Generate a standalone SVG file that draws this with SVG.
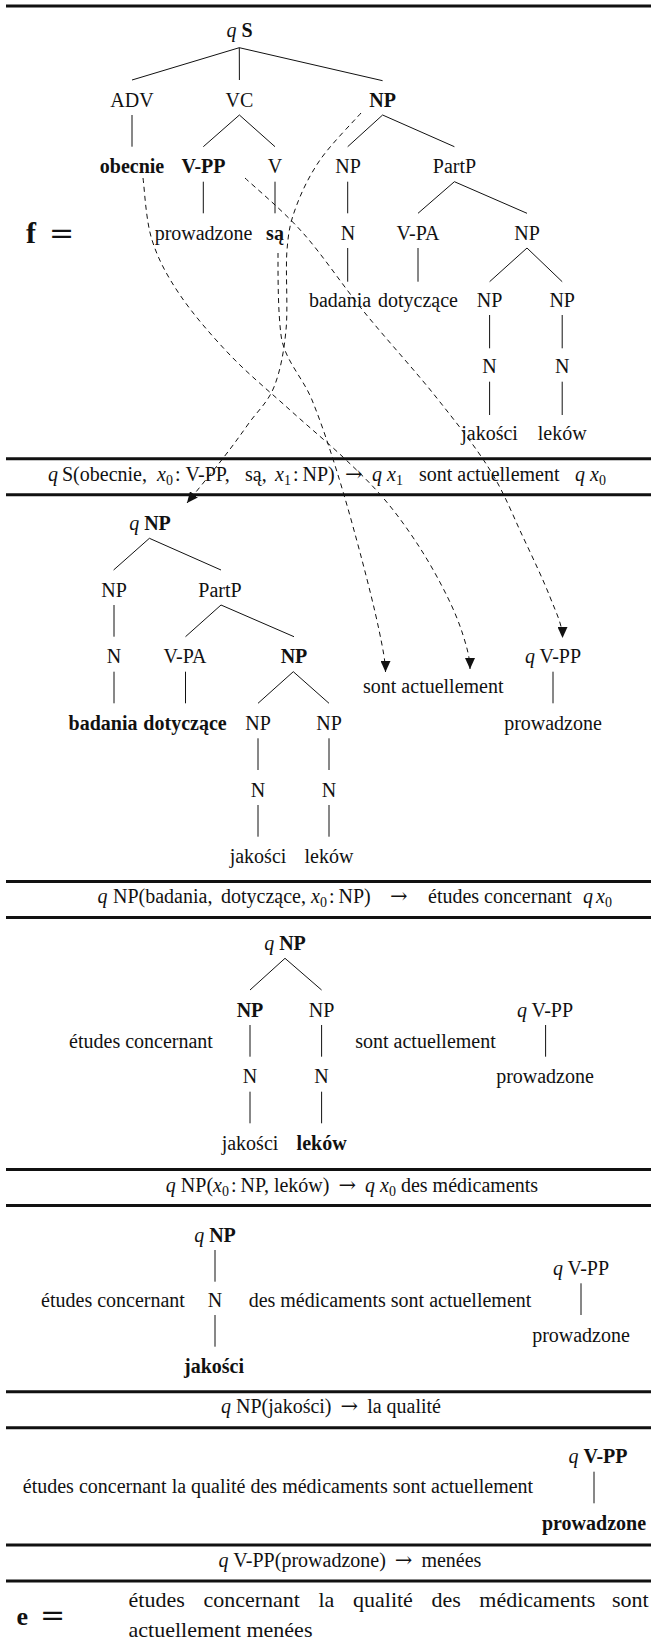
<svg xmlns="http://www.w3.org/2000/svg" width="651" height="1650" viewBox="0 0 651 1650">
<defs>
<marker id="ah" markerWidth="12" markerHeight="10" refX="11" refY="5" orient="auto" markerUnits="userSpaceOnUse">
<path d="M0,0 L11,5 L0,10 z" fill="#111"/>
</marker>
</defs>
<style>
text { font-family: "Liberation Serif","Times New Roman",serif; font-size:20px; fill:#111; }
.c { text-anchor: middle; }
.b { font-weight: bold; }
.i { font-style: italic; }
.s { font-size: 14px; }
.ar { font-family: "DejaVu Serif", serif; font-size: 21px; }
.e { stroke:#111; stroke-width:1; fill:none; }
.d { stroke:#111; stroke-width:1; fill:none; stroke-dasharray:5 4; }
.r { stroke:#111; stroke-width:3; }
.big { font-size: 30px; font-weight: bold; }
.eq { font-family: "DejaVu Serif", serif; font-size: 30px; }
.fin { font-size: 22px; }
</style>
<rect width="651" height="1650" fill="#fff"/>

<g id="rules">
<line class="r" x1="6" y1="6" x2="651" y2="6"/>
<line class="r" x1="6" y1="458.7" x2="651" y2="458.7"/>
<line class="r" x1="6" y1="494.7" x2="651" y2="494.7"/>
<line class="r" x1="6" y1="881.5" x2="651" y2="881.5"/>
<line class="r" x1="6" y1="917.5" x2="651" y2="917.5"/>
<line class="r" x1="6" y1="1169.5" x2="651" y2="1169.5"/>
<line class="r" x1="6" y1="1205.5" x2="651" y2="1205.5"/>
<line class="r" x1="6" y1="1391.7" x2="651" y2="1391.7"/>
<line class="r" x1="6" y1="1427.7" x2="651" y2="1427.7"/>
<line class="r" x1="6" y1="1545" x2="651" y2="1545"/>
<line class="r" x1="6" y1="1581" x2="651" y2="1581"/>
</g>

<g id="rule-texts">
<text y="480.5"><tspan class="i" x="48">q</tspan><tspan x="62">S(obecnie,</tspan><tspan class="i" x="157">x</tspan><tspan class="s" dy="4">0</tspan><tspan dx="2" dy="-4">:</tspan><tspan dx="5">V-PP,</tspan><tspan x="245">są,</tspan><tspan class="i" x="275">x</tspan><tspan class="s" dy="4">1</tspan><tspan dx="2" dy="-4">:</tspan><tspan dx="4">NP)</tspan><tspan class="ar" x="345">→</tspan><tspan class="i" x="372">q</tspan><tspan class="i" x="387">x</tspan><tspan class="s" dy="4">1</tspan><tspan x="419" dy="-4">sont actuellement</tspan><tspan class="i" x="575">q</tspan><tspan class="i" x="590">x</tspan><tspan class="s" dy="4">0</tspan></text>
<text y="903.3"><tspan class="i" x="97.5">q</tspan><tspan x="113">NP(badania,</tspan><tspan x="221">dotyczące,</tspan><tspan class="i" x="311">x</tspan><tspan class="s" dy="4">0</tspan><tspan dx="2" dy="-4">:</tspan><tspan dx="4">NP)</tspan><tspan class="ar" x="390">→</tspan><tspan x="428">études concernant</tspan><tspan class="i" x="583">q</tspan><tspan class="i" x="596">x</tspan><tspan class="s" dy="4">0</tspan></text>
<text class="c" x="352" y="1191.5"><tspan class="i">q</tspan> NP(<tspan class="i">x</tspan><tspan class="s" dy="4">0</tspan><tspan dx="2" dy="-4">:</tspan><tspan dx="4">NP, leków)</tspan><tspan class="ar" dx="9">→</tspan><tspan class="i" dx="9">q</tspan> <tspan class="i">x</tspan><tspan class="s" dy="4">0</tspan><tspan dy="-4"> des médicaments</tspan></text>
<text class="c" x="331" y="1413.3"><tspan class="i">q</tspan> NP(jakości)<tspan class="ar" dx="9">→</tspan><tspan dx="9">la qualité</tspan></text>
<text class="c" x="350" y="1567"><tspan class="i">q</tspan> V-PP(prowadzone)<tspan class="ar" dx="9">→</tspan><tspan dx="9">menées</tspan></text>
</g>

<g id="connectors">
<line class="e" x1="239.3" y1="47.7" x2="132" y2="80"/>
<line class="e" x1="239.3" y1="47.7" x2="239.4" y2="80"/>
<line class="e" x1="239.3" y1="47.7" x2="382.6" y2="80.7"/>
<line class="e" x1="132" y1="115" x2="132" y2="146.7"/>
<line class="e" x1="239.4" y1="115" x2="203.3" y2="146.7"/>
<line class="e" x1="239.4" y1="115" x2="275" y2="146.7"/>
<line class="e" x1="382.6" y1="115" x2="347.7" y2="146.7"/>
<line class="e" x1="382.6" y1="115" x2="454.4" y2="146.7"/>
<line class="e" x1="203.3" y1="181.7" x2="203.3" y2="213.3"/>
<line class="e" x1="275" y1="181.7" x2="275" y2="213.3"/>
<line class="e" x1="347.7" y1="181.7" x2="347.7" y2="213.3"/>
<line class="e" x1="454.4" y1="181.7" x2="418" y2="213.3"/>
<line class="e" x1="454.4" y1="181.7" x2="527" y2="213.3"/>
<line class="e" x1="347.7" y1="248" x2="347.7" y2="281.7"/>
<line class="e" x1="418" y1="248" x2="418" y2="281.7"/>
<line class="e" x1="527" y1="248" x2="489.6" y2="281.7"/>
<line class="e" x1="527" y1="248" x2="562.2" y2="281.7"/>
<line class="e" x1="489.6" y1="315" x2="489.6" y2="348.3"/>
<line class="e" x1="562.2" y1="315" x2="562.2" y2="348.3"/>
<line class="e" x1="489.6" y1="381.7" x2="489.6" y2="415"/>
<line class="e" x1="562.2" y1="381.7" x2="562.2" y2="415"/>

<line class="e" x1="149.4" y1="538.3" x2="113.6" y2="570"/>
<line class="e" x1="149.4" y1="538.3" x2="221" y2="570"/>
<line class="e" x1="114" y1="605" x2="114" y2="636.7"/>
<line class="e" x1="221" y1="605" x2="185.5" y2="636.7"/>
<line class="e" x1="221" y1="605" x2="294" y2="636.7"/>
<line class="e" x1="114" y1="671.7" x2="114" y2="703.3"/>
<line class="e" x1="185.5" y1="671.7" x2="185.5" y2="703.3"/>
<line class="e" x1="293.3" y1="671.7" x2="258" y2="703.3"/>
<line class="e" x1="293.3" y1="671.7" x2="329" y2="703.3"/>
<line class="e" x1="553" y1="671.7" x2="553" y2="703.3"/>
<line class="e" x1="258" y1="738.3" x2="258" y2="770"/>
<line class="e" x1="329" y1="738.3" x2="329" y2="770"/>
<line class="e" x1="258" y1="805" x2="258" y2="836.7"/>
<line class="e" x1="329" y1="805" x2="329" y2="836.7"/>

<line class="e" x1="285" y1="958.3" x2="250" y2="990"/>
<line class="e" x1="285" y1="958.3" x2="321.6" y2="990"/>
<line class="e" x1="250" y1="1025" x2="250" y2="1056.7"/>
<line class="e" x1="321.6" y1="1025" x2="321.6" y2="1056.7"/>
<line class="e" x1="545.6" y1="1025" x2="545.6" y2="1056.7"/>
<line class="e" x1="250" y1="1091.7" x2="250" y2="1123.3"/>
<line class="e" x1="321.6" y1="1091.7" x2="321.6" y2="1123.3"/>

<line class="e" x1="215" y1="1250" x2="215" y2="1281.7"/>
<line class="e" x1="215" y1="1315" x2="215" y2="1346.7"/>
<line class="e" x1="581" y1="1283.3" x2="581" y2="1315"/>

<line class="e" x1="594" y1="1471.7" x2="594" y2="1503.3"/>

<path class="d" marker-end="url(#ah)" d="M361,113 C354.2,120.8 330.8,144.3 320,160 C309.2,175.7 301.5,192 296,207 C290.5,222 288.7,229.5 287,250 C285.3,270.5 288.2,307.2 286,330 C283.8,352.8 280.2,371.5 274,387 C267.8,402.5 257.3,411.3 249,423 C240.7,434.7 234.3,443.7 224,457 C213.7,470.3 193.2,495.3 187,503"/>
<path class="d" marker-end="url(#ah)" d="M278,253 C278,280 278,310.3 281,335 C284,359.7 302.5,376.7 312,400 C321.5,423.3 329.7,448.3 338,475 C346.3,501.7 355.2,534.2 362,560 C368.8,585.8 375.1,611.3 379,630 C382.9,648.7 385.5,662 385.5,672"/>
<path class="d" marker-end="url(#ah)" d="M143,178 C144.5,188.3 145.8,220.5 152,240 C158.2,259.5 167,275.8 180,295 C193,314.2 211.7,335.8 230,355 C248.3,374.2 271,392.8 290,410 C309,427.2 328.2,443 344,458 C359.8,473 372.3,485 385,500 C397.7,515 409.7,532 420,548 C430.3,564 439.8,581.5 447,596 C454.2,610.5 459.2,623 463,635 C466.8,647 470,658 470,669"/>
<path class="d" marker-end="url(#ah)" d="M245,178 C254.7,187.2 283,210.5 303,233 C323,255.5 342.8,285.7 365,313 C387.2,340.3 415.2,370.8 436,397 C456.8,423.2 475.5,446.7 490,470 C504.5,493.3 513,515.8 523,537 C533,558.2 543.4,580.2 550,597 C556.6,613.8 562.5,625 562.5,638"/>
</g>

<g id="s1-nodes">
<g id="f-eq"><text x="26" y="243" class="big">f</text><text x="49" y="243" class="eq">=</text></g>
<g id="n-qS"><text class="c" x="239.5" y="37"><tspan class="i">q</tspan> <tspan class="b">S</tspan></text></g>
<g id="n-ADV"><text class="c" x="132" y="106.7">ADV</text></g>
<g id="n-VC"><text class="c" x="239.5" y="106.7">VC</text></g>
<g id="n-NP-s1"><text class="c b" x="382.6" y="106.7">NP</text></g>
<g id="n-obecnie"><text class="c b" x="132" y="173.3">obecnie</text></g>
<g id="n-VPP-s1"><text class="c b" x="203.5" y="173.3">V-PP</text></g>
<g id="n-V"><text class="c" x="275" y="173.3">V</text></g>
<g id="n-NP-a"><text class="c" x="348" y="173.3">NP</text></g>
<g id="n-PartP-s1"><text class="c" x="454.5" y="173.3">PartP</text></g>
<g id="n-prowadzone-s1"><text class="c" x="203.5" y="240">prowadzone</text></g>
<g id="n-sa"><text class="c b" x="275" y="240">są</text></g>
<g id="n-N-a"><text class="c" x="348" y="240">N</text></g>
<g id="n-VPA-s1"><text class="c" x="418" y="240">V-PA</text></g>
<g id="n-NP-b"><text class="c" x="527" y="240">NP</text></g>
<g id="n-badania-s1"><text class="c" x="340" y="306.7">badania</text></g>
<g id="n-dotyczace-s1"><text class="c" x="418" y="306.7">dotyczące</text></g>
<g id="n-NP-c"><text class="c" x="489.6" y="306.7">NP</text></g>
<g id="n-NP-d"><text class="c" x="562.2" y="306.7">NP</text></g>
<g id="n-N-b"><text class="c" x="489.6" y="373.3">N</text></g>
<g id="n-N-c"><text class="c" x="562.2" y="373.3">N</text></g>
<g id="n-jakosci-s1"><text class="c" x="489.6" y="440">jakości</text></g>
<g id="n-lekow-s1"><text class="c" x="562.2" y="440">leków</text></g>
</g>

<g id="s2-nodes">
<g id="n-qNP-s2"><text class="c" x="150" y="530"><tspan class="i">q</tspan> <tspan class="b">NP</tspan></text></g>
<g id="n-NP-s2a"><text class="c" x="114" y="596.7">NP</text></g>
<g id="n-PartP-s2"><text class="c" x="220" y="596.7">PartP</text></g>
<g id="n-N-s2a"><text class="c" x="114" y="663.3">N</text></g>
<g id="n-VPA-s2"><text class="c" x="185" y="663.3">V-PA</text></g>
<g id="n-NP-s2b"><text class="c b" x="294" y="663.3">NP</text></g>
<g id="n-qVPP-s2"><text class="c" x="553" y="663.3"><tspan class="i">q</tspan> V-PP</text></g>
<g id="n-sont-s2"><text class="c" x="433.3" y="693.3">sont actuellement</text></g>
<g id="n-badania-s2"><text class="c b" x="103" y="730">badania</text></g>
<g id="n-dotyczace-s2"><text class="c b" x="185" y="730">dotyczące</text></g>
<g id="n-NP-s2c"><text class="c" x="258" y="730">NP</text></g>
<g id="n-NP-s2d"><text class="c" x="329" y="730">NP</text></g>
<g id="n-prowadzone-s2"><text class="c" x="553" y="730">prowadzone</text></g>
<g id="n-N-s2b"><text class="c" x="258" y="796.7">N</text></g>
<g id="n-N-s2c"><text class="c" x="329" y="796.7">N</text></g>
<g id="n-jakosci-s2"><text class="c" x="258" y="863.3">jakości</text></g>
<g id="n-lekow-s2"><text class="c" x="329" y="863.3">leków</text></g>
</g>

<g id="s3-nodes">
<g id="n-qNP-s3"><text class="c" x="285" y="950"><tspan class="i">q</tspan> <tspan class="b">NP</tspan></text></g>
<g id="n-NP-s3a"><text class="c b" x="250" y="1016.7">NP</text></g>
<g id="n-NP-s3b"><text class="c" x="321.6" y="1016.7">NP</text></g>
<g id="n-qVPP-s3"><text class="c" x="545" y="1016.7"><tspan class="i">q</tspan> V-PP</text></g>
<g id="n-etudes-s3"><text class="c" x="141" y="1048">études concernant</text></g>
<g id="n-sont-s3"><text class="c" x="425.5" y="1048">sont actuellement</text></g>
<g id="n-N-s3a"><text class="c" x="250" y="1083.3">N</text></g>
<g id="n-N-s3b"><text class="c" x="321.6" y="1083.3">N</text></g>
<g id="n-prowadzone-s3"><text class="c" x="545" y="1083.3">prowadzone</text></g>
<g id="n-jakosci-s3"><text class="c" x="250" y="1150">jakości</text></g>
<g id="n-lekow-s3"><text class="c b" x="321.6" y="1150">leków</text></g>
</g>

<g id="s4-nodes">
<g id="n-qNP-s4"><text class="c" x="215" y="1241.7"><tspan class="i">q</tspan> <tspan class="b">NP</tspan></text></g>
<g id="n-qVPP-s4"><text class="c" x="581" y="1275"><tspan class="i">q</tspan> V-PP</text></g>
<g id="n-etudes-s4"><text class="c" x="113" y="1306.7">études concernant</text></g>
<g id="n-N-s4"><text class="c" x="215" y="1306.7">N</text></g>
<g id="n-des-s4"><text class="c" x="390" y="1306.7">des médicaments sont actuellement</text></g>
<g id="n-prowadzone-s4"><text class="c" x="581" y="1341.7">prowadzone</text></g>
<g id="n-jakosci-s4"><text class="c b" x="214" y="1373.3">jakości</text></g>
</g>

<g id="s6-nodes">
<g id="n-qVPP-s6"><text class="c" x="598" y="1463.3"><tspan class="i">q</tspan> <tspan class="b">V-PP</tspan></text></g>
<g id="n-etudes-s6"><text class="c" x="278" y="1493.3">études concernant la qualité des médicaments sont actuellement</text></g>
<g id="n-prowadzone-s6"><text class="c b" x="594" y="1530">prowadzone</text></g>
</g>

<g id="result">
<text x="16.6" y="1625" class="big" style="font-size:26px">e</text><text x="40" y="1625" class="eq">=</text>
<text class="fin" y="1606.7"><tspan x="128.6">études</tspan><tspan x="203.4">concernant</tspan><tspan x="318.5">la</tspan><tspan x="353">qualité</tspan><tspan x="431.4">des</tspan><tspan x="479.3">médicaments</tspan><tspan x="612">sont</tspan></text>
<text class="fin" x="128.6" y="1637">actuellement menées</text>
</g>
</svg>
